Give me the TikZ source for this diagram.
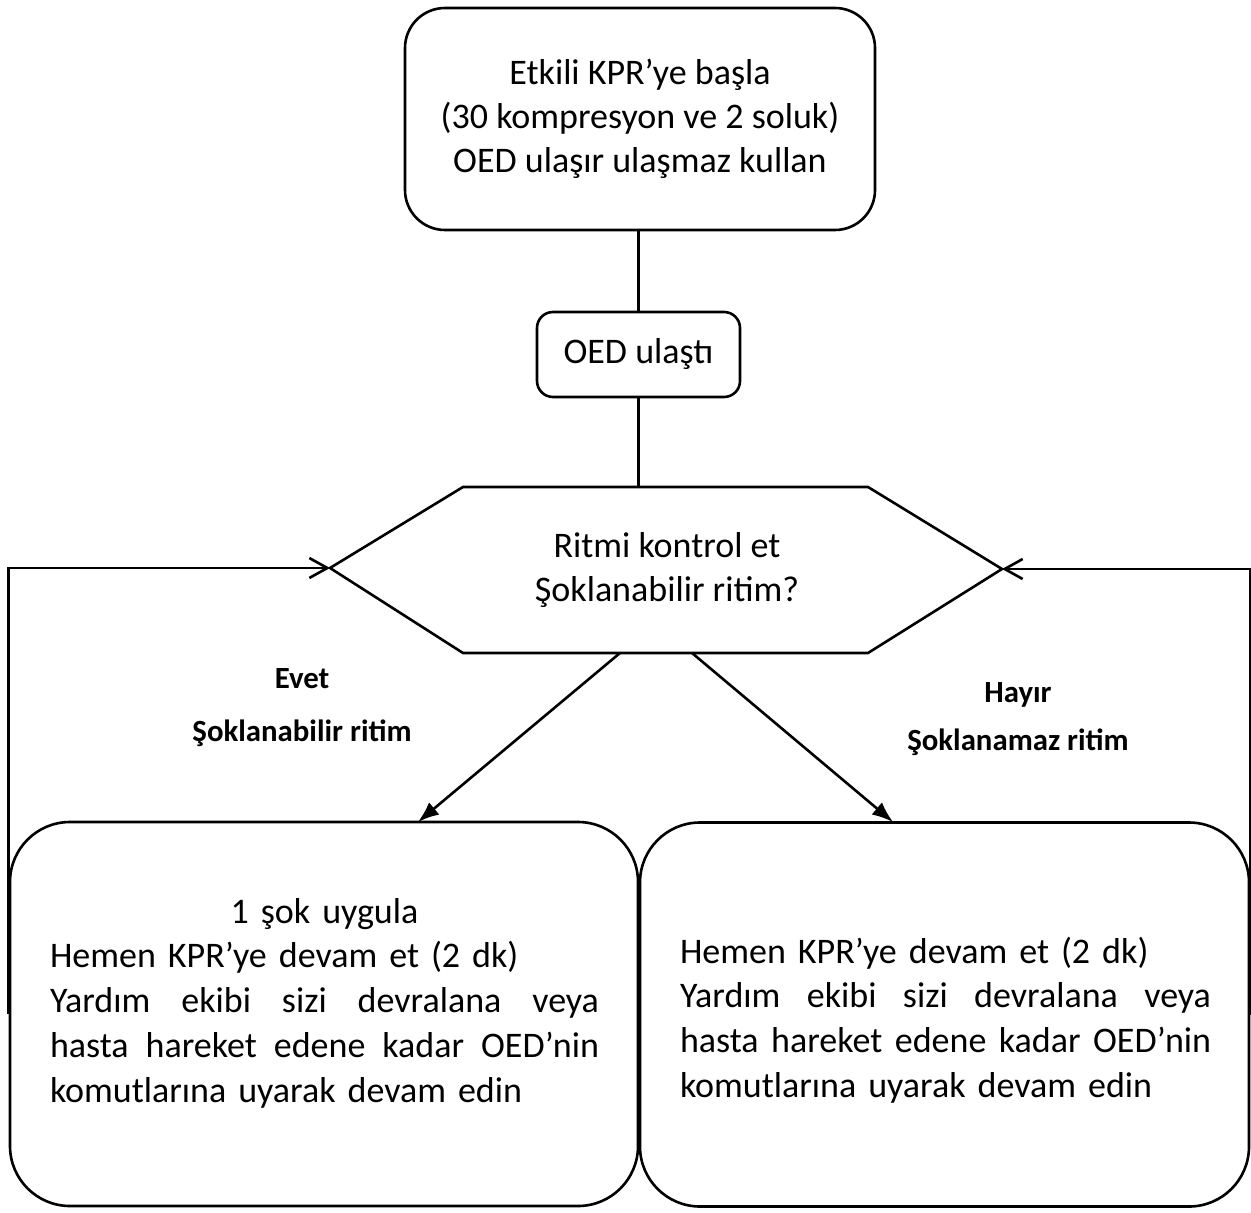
\documentclass[tikz,border=0pt]{standalone}
\usepackage{fontspec}
\setmainfont{Carlito}
\usetikzlibrary{arrows.meta}

\newcommand{\blockzeile}[2]{\leavevmode\hbox to #1{#2}}

\begin{document}
\begin{tikzpicture}[x=0.5pt, y=-0.5pt, line width=1.3pt,
    >={Latex[length=10.5pt,width=8pt]},
    kasten/.style={draw, align=center, font=\fontsize{18}{22}\selectfont},
    grosskasten/.style={draw, rounded corners=30pt, minimum height=192pt},
    fliesstext/.style={text width=#1, inner sep=0pt, align=left, font=\fontsize{18}{22.4}\selectfont},
    rueck/.style={-{Straight Barb[length=9pt,width=10pt]}},
    marke/.style={font=\bfseries\fontsize{15.4}{18}\selectfont}]
\useasboundingbox (0,0) rectangle (1251,1213);
% Startkasten oben
\node[kasten, minimum width=235pt, minimum height=111pt, rounded corners=20pt] (start) at (640,119)
    {Etkili KPR’ye başla\\(30 kompresyon ve 2 soluk)\\OED ulaşır ulaşmaz kullan};
% OED kommt an
\node[kasten, minimum width=101.5pt, minimum height=42.5pt, rounded corners=8pt] (oed) at (638.5,354.5) {OED ulaştı};
% Sechseck fuer die Rhythmuspruefung
\coordinate (h1) at (330,568);
\coordinate (h2) at (463,487);
\coordinate (h3) at (868,487);
\coordinate (h4) at (1002,569);
\coordinate (h5) at (868,653);
\coordinate (h6) at (463,653);
\draw (h1) -- (h2) -- (h3) -- (h4) -- (h5) -- (h6) -- cycle;
\node[kasten, draw=none] (frage) at (667,570) {Ritmi kontrol et\\Şoklanabilir ritim?};
% senkrechte Verbindungen
\draw (oed.north) -- (oed.north |- start.south);
\draw (oed) -- (oed.south |- h2);
% untere Kaesten
\node[grosskasten, minimum width=314pt] (links) at (324,1014) {};
\node[grosskasten, minimum width=304.5pt] (rechts) at (944.5,1014.5) {};
\node[fliesstext=274.5pt] (linkstext) at (324.5,1003) {%
    \blockzeile{274.5pt}{\hfil 1 şok uygula\hfil}\\
    Hemen KPR’ye devam et (2 dk)\\
    \blockzeile{274.5pt}{Yardım\hfill ekibi\hfill sizi\hfill devralana\hfill veya}\\
    \blockzeile{274.5pt}{hasta\hfill hareket\hfill edene\hfill kadar\hfill OED’nin}\\
    komutlarına uyarak devam edin};
\node[fliesstext=265.5pt] (rechtstext) at (945.5,1020) {%
    Hemen KPR’ye devam et (2 dk)\\
    \blockzeile{265.5pt}{Yardım\hfill ekibi\hfill sizi\hfill devralana\hfill veya}\\
    \blockzeile{265.5pt}{hasta\hfill hareket\hfill edene\hfill kadar\hfill OED’nin}\\
    komutlarına uyarak devam edin};
% Pfeile nach unten
\coordinate (ja) at (620,653);
\coordinate (jb) at (418,822);
\coordinate (na) at (692,653);
\coordinate (nb) at (893,822);
\draw[->] (ja) -- (jb);
\draw[->] (na) -- (nb);
% Rueckfuehrung zum Sechseck
\draw[rueck] (links.west) |- (h1);
\draw[rueck] (rechts.east) |- (h4);
% Beschriftungen
\node[marke] (ja1) at (302,679) {Evet};
\node[marke] (ja2) at (302,733) {Şoklanabilir ritim};
\node[marke] (nein1) at (1018,695) {Hayır};
\node[marke] (nein2) at (1018,742) {Şoklanamaz ritim};
\end{tikzpicture}
\end{document}
